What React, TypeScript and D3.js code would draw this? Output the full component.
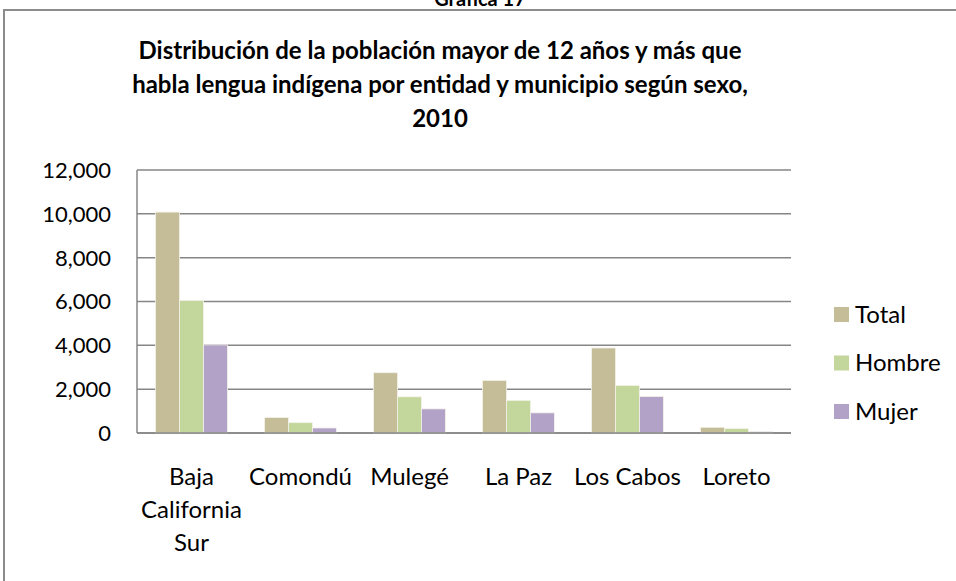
import React, { useEffect, useRef } from "react";
import * as d3 from "d3";

const categories = ["Baja California Sur", "Comondú", "Mulegé", "La Paz", "Los Cabos", "Loreto"];
const seriesNames = ["Total", "Hombre", "Mujer"];
const totalValues = [10080, 710, 2750, 2400, 3880, 260];
const hombreValues = [6050, 470, 1650, 1490, 2170, 200];
const mujerValues = [4020, 230, 1100, 920, 1670, 60];
const yTicks = [0, 2000, 4000, 6000, 8000, 10000, 12000];
const colors = ["#C4BD97", "#C3D69B", "#B2A2C7"];
const titleLines = [
  "Distribución de la población mayor de 12 años y más que",
  "habla lengua indígena por entidad y municipio según sexo,",
  "2010",
];

const W = 956;
const H = 581;
const FONT = "Lato, 'Open Sans', sans-serif";

const App = () => {
  const svgRef = useRef<SVGSVGElement>(null);

  useEffect(() => {
    const svg = d3.select(svgRef.current);
    svg.selectAll("*").remove();

    // plot area
    const left = 137;
    const right = 791;
    const top = 170;
    const bottom = 433;

    const seriesValues = [totalValues, hombreValues, mujerValues];
    const rows = categories.map((c, i) => ({
      cat: c,
      vals: seriesNames.map((s, j) => ({ name: s, value: seriesValues[j][i] })),
    }));

    const x0 = d3.scaleBand().domain(categories).range([left, right]);
    const bw = x0.bandwidth();
    const x1 = d3.scaleBand().domain(seriesNames).range([bw * 0.17, bw * 0.83]);
    const y = d3.scaleLinear().domain([0, 12000]).range([bottom, top]);

    // outer frame
    svg
      .append("rect")
      .attr("x", 4)
      .attr("y", 10)
      .attr("width", W + 10)
      .attr("height", H + 10)
      .attr("fill", "white")
      .attr("stroke", "#8c8c8c")
      .attr("stroke-width", 2);

    svg
      .append("text")
      .attr("x", 480)
      .attr("y", 6)
      .attr("text-anchor", "middle")
      .attr("font-family", FONT)
      .attr("font-weight", "bold")
      .attr("font-size", 20)
      .text("Gráfica 17");

    // title
    svg
      .append("g")
      .selectAll("text")
      .data(titleLines)
      .enter()
      .append("text")
      .attr("x", 440)
      .attr("y", (d, i) => 59 + i * 34)
      .attr("text-anchor", "middle")
      .attr("font-family", FONT)
      .attr("font-weight", "bold")
      .attr("font-size", 24)
      .attr("fill", "#000")
      .text((d) => d);

    // gridlines
    svg
      .append("g")
      .selectAll("line")
      .data(yTicks)
      .enter()
      .append("line")
      .attr("x1", left)
      .attr("x2", right)
      .attr("y1", (d) => y(d))
      .attr("y2", (d) => y(d))
      .attr("stroke", "#868686")
      .attr("stroke-width", 1.5);

    // left axis line
    svg
      .append("line")
      .attr("x1", left)
      .attr("x2", left)
      .attr("y1", top)
      .attr("y2", bottom)
      .attr("stroke", "#868686")
      .attr("stroke-width", 1.5);

    // y tick labels
    svg
      .append("g")
      .selectAll("text")
      .data(yTicks)
      .enter()
      .append("text")
      .attr("x", 111)
      .attr("y", (d) => y(d))
      .attr("dy", "0.36em")
      .attr("text-anchor", "end")
      .attr("font-family", FONT)
      .attr("font-size", 22)
      .attr("fill", "#000")
      .text((d) => d3.format(",")(d));

    // bars
    const groups = svg
      .append("g")
      .selectAll("g")
      .data(rows)
      .enter()
      .append("g")
      .attr("transform", (d) => `translate(${x0(d.cat)},0)`);

    groups
      .selectAll("rect")
      .data((d) => d.vals)
      .enter()
      .append("rect")
      .attr("x", (d) => x1(d.name)!)
      .attr("y", (d) => y(d.value))
      .attr("width", x1.bandwidth())
      .attr("height", (d) => bottom - y(d.value))
      .attr("fill", (d, i) => colors[i])
      .attr("stroke", "#f4f2ea")
      .attr("stroke-width", 0.8);

    // bottom axis line on top of bars
    svg
      .append("line")
      .attr("x1", left)
      .attr("x2", right)
      .attr("y1", bottom)
      .attr("y2", bottom)
      .attr("stroke", "#868686")
      .attr("stroke-width", 1.5);

    // category labels with wrapping
    const maxW = bw - 2;
    const catG = svg.append("g");
    categories.forEach((c) => {
      const t = catG
        .append("text")
        .attr("text-anchor", "middle")
        .attr("font-family", FONT)
        .attr("font-size", 24)
        .attr("fill", "#000");
      const words = c.split(" ");
      const lines: string[] = [];
      let cur = "";
      words.forEach((w) => {
        const test = cur ? cur + " " + w : w;
        t.text(test);
        const len = (t.node() as SVGTextElement).getComputedTextLength();
        if (len > maxW && cur) {
          lines.push(cur);
          cur = w;
        } else {
          cur = test;
        }
      });
      lines.push(cur);
      t.text(null);
      const cx = x0(c)! + bw / 2;
      lines.forEach((ln, i) => {
        t.append("tspan")
          .attr("x", cx)
          .attr("y", 485 + i * 33)
          .text(ln);
      });
    });

    // legend
    const legend = svg
      .append("g")
      .selectAll("g")
      .data(seriesNames)
      .enter()
      .append("g")
      .attr("transform", (d, i) => `translate(834,${307 + i * 48.5})`);
    legend
      .append("rect")
      .attr("width", 15)
      .attr("height", 15)
      .attr("fill", (d, i) => colors[i]);
    legend
      .append("text")
      .attr("x", 21)
      .attr("y", 15.5)
      .attr("font-family", FONT)
      .attr("font-size", 24)
      .attr("fill", "#000")
      .text((d) => d);
  }, []);

  return (
    <svg
      ref={svgRef}
      width={W}
      height={H}
      style={{ position: "absolute", left: 0, top: 0, display: "block", background: "white" }}
    />
  );
};

export default App;
